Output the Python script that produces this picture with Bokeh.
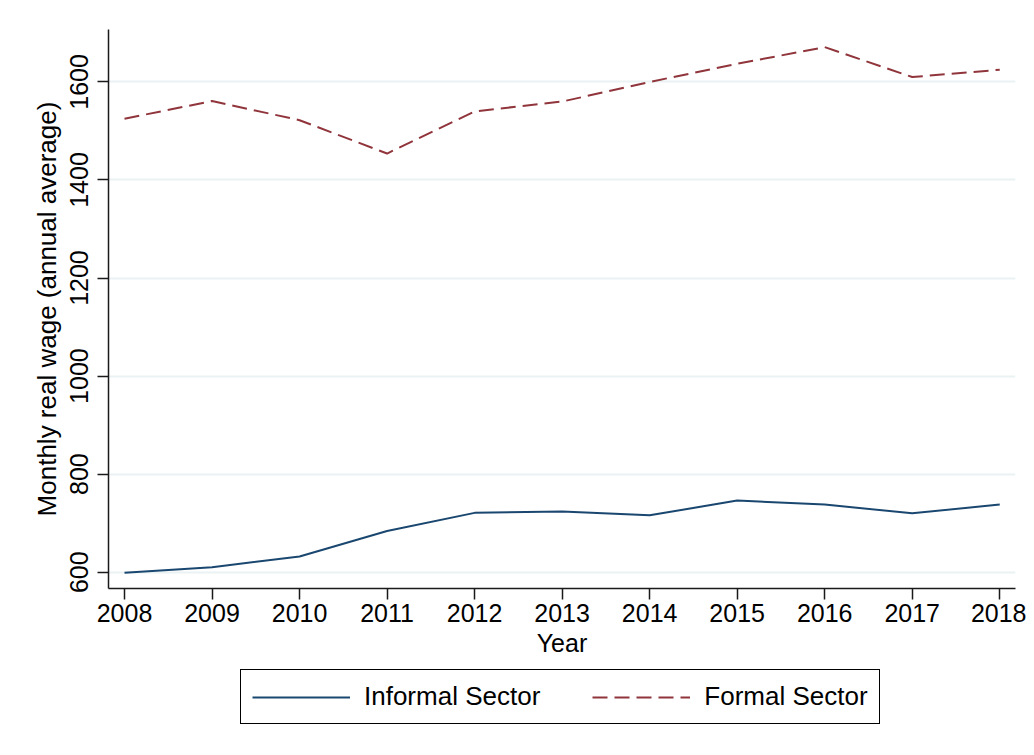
from bokeh.plotting import figure
from bokeh.layouts import column
from bokeh.models import Range1d, FixedTicker, Legend, LegendItem
from bokeh.embed import file_html
from bokeh.resources import INLINE

years = [2008, 2009, 2010, 2011, 2012, 2013, 2014, 2015, 2016, 2017, 2018]
informal = [599, 610, 632, 684, 721, 724, 716, 746, 738, 720, 738]
formal = [1525, 1561, 1522, 1454, 1540, 1560, 1600, 1637, 1671, 1610, 1625]
y_ticks = [600, 800, 1000, 1200, 1400, 1600]
series_names = ["Informal Sector", "Formal Sector"]

FONT = "Liberation Sans"
NAVY = "#1a476f"
MAROON = "#90353b"
DASH = "15 7"

p = figure(frame_width=907, frame_height=559,
           min_border_left=108, min_border_right=11, min_border_top=29, min_border_bottom=0,
           x_range=Range1d(2007.817, 2018.18), y_range=Range1d(566.7, 1707),
           output_backend="svg", toolbar_location=None)
p.background_fill_color = "white"
p.border_fill_color = "white"
p.outline_line_color = None

p.line(years, informal, line_color=NAVY, line_width=2)
p.line(years, formal, line_color=MAROON, line_width=2, line_dash=DASH)

p.xgrid.grid_line_color = None
p.ygrid.grid_line_color = "#eaf2f3"
p.ygrid.grid_line_width = 2

p.xaxis.ticker = FixedTicker(ticks=years)
p.yaxis.ticker = FixedTicker(ticks=y_ticks)
for ax in (p.xaxis[0], p.yaxis[0]):
    ax.axis_line_color = "#1a1a1a"
    ax.axis_line_width = 1.5
    ax.major_tick_line_color = "#1a1a1a"
    ax.major_tick_line_width = 1.5
    ax.major_tick_out = 11
    ax.major_tick_in = 0
    ax.minor_tick_line_color = None
    ax.major_label_text_font = FONT
    ax.major_label_text_color = "black"
    ax.axis_label_text_font = FONT
    ax.axis_label_text_font_style = "normal"
    ax.axis_label_text_color = "black"

p.xaxis.major_label_text_font_size = "25px"
p.xaxis.major_label_standoff = 4
p.xaxis.axis_label = "Year"
p.xaxis.axis_label_text_font_size = "25px"
p.xaxis.axis_label_standoff = 4

p.yaxis.major_label_text_font_size = "25px"
p.yaxis.major_label_orientation = "vertical"
p.yaxis.major_label_standoff = 9
p.yaxis.axis_label = "Monthly real wage (annual average)"
p.yaxis.axis_label_text_font_size = "26px"
p.yaxis.axis_label_standoff = 6

# legend strip: same series, plotted outside the strip's visible range so only the legend shows
lg = figure(width=1026, height=80, min_border=0,
            x_range=Range1d(0, 1), y_range=Range1d(0, 1),
            x_axis_type=None, y_axis_type=None,
            output_backend="svg", toolbar_location=None)
lg.background_fill_color = "white"
lg.border_fill_color = "white"
lg.outline_line_color = None
lg.xgrid.grid_line_color = None
lg.ygrid.grid_line_color = None
q1 = lg.line(years, informal, line_color=NAVY, line_width=2)
q2 = lg.line(years, formal, line_color=MAROON, line_width=2, line_dash=DASH)

legend = Legend(items=[LegendItem(label=series_names[0], renderers=[q1]),
                       LegendItem(label=series_names[1], renderers=[q2])],
                orientation="horizontal", location=(132, 15))
legend.label_text_font = FONT
legend.label_text_font_size = "26px"
legend.label_text_color = "black"
legend.glyph_width = 98
legend.glyph_height = 24
legend.label_standoff = 14
legend.spacing = 52
legend.padding = 11
legend.margin = 0
legend.border_line_color = "black"
legend.border_line_alpha = 1.0
legend.border_line_width = 1.5
legend.background_fill_color = "white"
lg.add_layout(legend, "center")

layout = column(p, lg, spacing=0)
open("out.html", "w").write(file_html(layout, INLINE))
